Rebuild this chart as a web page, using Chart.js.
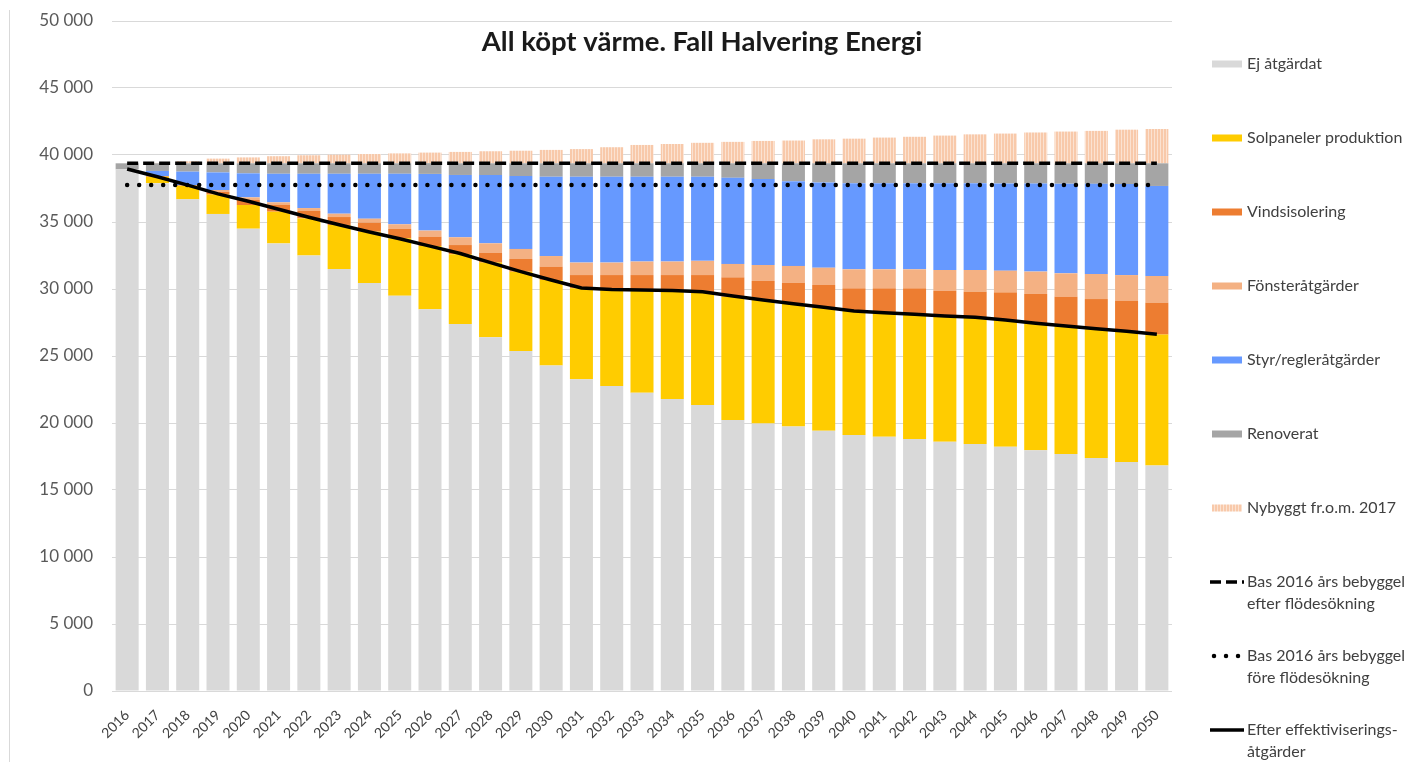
<!DOCTYPE html>
<html lang="sv">
<head>
<meta charset="utf-8">
<title>All köpt värme. Fall Halvering Energi</title>
<script src="https://cdn.jsdelivr.net/npm/chart.js@4.4.1/dist/chart.umd.min.js"></script>
<style>
  html, body { margin: 0; padding: 0; background: #fff; }
  #wrap { position: relative; width: 1405px; height: 762px; }
</style>
</head>
<body>
<div id="wrap"><canvas id="chart" width="1405" height="762"></canvas></div>
<script>
// Categories
const years = ['2016','2017','2018','2019','2020','2021','2022','2023','2024','2025','2026','2027',
  '2028','2029','2030','2031','2032','2033','2034','2035','2036','2037','2038','2039','2040','2041',
  '2042','2043','2044','2045','2046','2047','2048','2049','2050'];

// Stacked bar series (MWh), bottom to top
const ejAtgardat = [38930, 37900, 36690, 35600, 34500, 33400, 32500, 31500, 30450, 29500, 28480, 27390,
  26390, 25370, 24300, 23260, 22760, 22260, 21790, 21340, 20220, 19970, 19730, 19430, 19100, 18980,
  18810, 18610, 18430, 18230, 17960, 17690, 17390, 17090, 16820];
const solpaneler = [0, 480, 1010, 1450, 1770, 2370, 2770, 3280, 3830, 4280, 4730, 5210,
  5580, 5920, 6370, 6790, 7170, 7620, 8010, 8390, 9210, 9210, 9200, 9170, 9260, 9250,
  9300, 9380, 9460, 9460, 9480, 9550, 9650, 9750, 9780];
const vindsisolering = [0, 50, 40, 200, 370, 500, 550, 590, 670, 700, 700, 680,
  740, 950, 1000, 990, 1110, 1160, 1240, 1310, 1440, 1420, 1540, 1700, 1690, 1820,
  1940, 1880, 1910, 2060, 2190, 2190, 2210, 2290, 2380];
const fonster = [0, 0, 20, 140, 200, 200, 220, 250, 300, 350, 450, 580,
  700, 750, 790, 930, 930, 1010, 1010, 1060, 1000, 1190, 1250, 1290, 1420, 1420,
  1420, 1550, 1620, 1620, 1670, 1740, 1870, 1910, 1990];
const styrRegler = [0, 380, 1000, 1310, 1790, 2130, 2560, 2980, 3350, 3770, 4230, 4650,
  5090, 5440, 5920, 6410, 6410, 6330, 6330, 6280, 6430, 6410, 6330, 6360, 6430, 6430,
  6430, 6480, 6480, 6510, 6570, 6690, 6730, 6790, 6720];
const renoverat = [450, 570, 620, 680, 750, 780, 780, 780, 780, 780, 800, 870,
  880, 950, 1000, 1000, 1000, 1000, 1000, 1000, 1080, 1180, 1330, 1430, 1480, 1480,
  1480, 1480, 1480, 1500, 1510, 1520, 1530, 1550, 1690];
const nybyggt = [0, 30, 150, 350, 440, 530, 600, 640, 690, 740, 790, 850,
  900, 940, 1000, 1060, 1200, 1370, 1440, 1530, 1600, 1670, 1700, 1790, 1840, 1920,
  1980, 2070, 2160, 2220, 2300, 2370, 2420, 2510, 2560];

// Line series
const basEfter = [39380, 39380, 39380, 39380, 39380, 39380, 39380, 39380, 39380, 39380, 39380, 39380,
  39380, 39380, 39380, 39380, 39380, 39380, 39380, 39380, 39380, 39380, 39380, 39380, 39380, 39380,
  39380, 39380, 39380, 39380, 39380, 39380, 39380, 39380, 39380];
const basFore = [37760, 37760, 37760, 37760, 37760, 37760, 37760, 37760, 37760, 37760, 37760, 37760,
  37760, 37760, 37760, 37760, 37760, 37760, 37760, 37760, 37760, 37760, 37760, 37760, 37760, 37760,
  37760, 37760, 37760, 37760, 37760, 37760, 37760, 37760, 37760];
const efterEffektivisering = [38950, 38380, 37750, 37100, 36550, 35950, 35350, 34800, 34250, 33750, 33200, 32650,
  31970, 31300, 30670, 30070, 29970, 29930, 29880, 29800, 29480, 29180, 28900, 28630, 28360, 28230,
  28110, 27990, 27890, 27690, 27440, 27240, 27040, 26840, 26620];

// Y tick labels
const yTickLabels = ['0', '5 000', '10 000', '15 000', '20 000', '25 000', '30 000', '35 000', '40 000', '45 000', '50 000'];

const chartTitle = 'All köpt värme. Fall Halvering Energi';

// Striped peach fill for new buildings
function makeStripes() {
  const c = document.createElement('canvas');
  c.width = 3; c.height = 4;
  const g = c.getContext('2d');
  g.fillStyle = '#f8c9aa';
  g.fillRect(0, 0, 3, 4);
  g.fillStyle = '#fbe2d1';
  g.fillRect(2, 0, 1, 4);
  return g.createPattern(c, 'repeat');
}
const stripes = makeStripes();

function bar(label, data, color) {
  return { type: 'bar', label, data, backgroundColor: color, stack: 'bars', order: 2,
    barPercentage: 0.76, categoryPercentage: 1 };
}
function line(label, data, extra) {
  return Object.assign({ type: 'line', label, data, borderColor: '#000', backgroundColor: '#000',
    pointRadius: 0, fill: false, tension: 0, order: 0 }, extra);
}

const datasets = [
  bar('Ej åtgärdat', ejAtgardat, '#d9d9d9'),
  bar('Solpaneler produktion', solpaneler, '#ffcc00'),
  bar('Vindsisolering', vindsisolering, '#ed7d31'),
  bar('Fönsteråtgärder', fonster, '#f4b183'),
  bar('Styr/regleråtgärder', styrRegler, '#6699ff'),
  bar('Renoverat', renoverat, '#a5a5a5'),
  bar('Nybyggt fr.o.m. 2017', nybyggt, stripes),
  line('Bas 2016 års bebyggelse\nefter flödesökning', basEfter,
    { stack: 'l1', borderWidth: 3.5, borderDash: [11, 5] }),
  line('Bas 2016 års bebyggelse\nföre flödesökning', basFore,
    { stack: 'l2', borderWidth: 4.5, borderDash: [0.01, 12], borderCapStyle: 'round' }),
  line('Efter effektiviserings-\nåtgärder', efterEffektivisering,
    { stack: 'l3', borderWidth: 3.5 })
];

// Title, frame line and side legend
const decorations = {
  id: 'decorations',
  beforeDraw(chart) {
    const ctx = chart.ctx;
    ctx.save();
    ctx.strokeStyle = '#d9d9d9';
    ctx.lineWidth = 1;
    ctx.beginPath();
    ctx.moveTo(9.5, 10);
    ctx.lineTo(9.5, 762);
    ctx.stroke();
    ctx.restore();
  },
  afterDraw(chart) {
    const ctx = chart.ctx;
    ctx.save();
    ctx.fillStyle = '#1a1a1a';
    ctx.font = 'bold 27.5px Lato';
    ctx.textAlign = 'center';
    ctx.textBaseline = 'middle';
    ctx.fillText(chartTitle, 702, 42);

    ctx.textAlign = 'left';
    ctx.font = '16px Lato';
    const x0 = 1212, w = 30, tx = 1247;
    chart.data.datasets.forEach((ds, i) => {
      const y = 64 + i * 74;
      if (ds.type === 'bar') {
        ctx.fillStyle = ds.backgroundColor;
        ctx.fillRect(x0, y - 3.5, w, 7);
      } else {
        ctx.strokeStyle = '#000';
        ctx.lineWidth = ds.borderWidth;
        ctx.lineCap = ds.borderCapStyle || 'butt';
        ctx.setLineDash(ds.borderDash || []);
        ctx.beginPath();
        if (ds.borderDash && ds.borderDash[0] < 1) {
          ctx.moveTo(x0 + 2, y);
          ctx.lineTo(x0 + 30, y);
        } else {
          ctx.moveTo(x0 - 2, y);
          ctx.lineTo(x0 + 32, y);
        }
        ctx.stroke();
        ctx.setLineDash([]);
      }
      ctx.fillStyle = '#404040';
      ds.label.split('\n').forEach((t, j) => ctx.fillText(t, tx, y + j * 22));
    });
    ctx.restore();
  }
};

new Chart(document.getElementById('chart'), {
  data: { labels: years, datasets },
  options: {
    responsive: false,
    animation: false,
    layout: { padding: { top: 21, right: 233, left: 0, bottom: 0 } },
    plugins: { legend: { display: false }, title: { display: false }, tooltip: { enabled: false } },
    scales: {
      x: {
        stacked: true,
        grid: { display: false },
        border: { display: false },
        ticks: { autoSkip: false, minRotation: 45, maxRotation: 45, color: '#404040',
          font: { family: 'Lato', size: 14 }, padding: 8 },
        afterFit(s) { s.height = 71; }
      },
      y: {
        stacked: true,
        min: 0,
        max: 50000,
        grid: { color: '#d9d9d9', lineWidth: 1, drawTicks: false },
        border: { display: false },
        ticks: { stepSize: 5000, color: '#595959', padding: 19,
          font: { family: 'Lato', size: 17 },
          callback: (v, i) => yTickLabels[i] },
        // tick padding would otherwise push the plot area down
        afterFit(s) { s.width = 112; s.paddingTop = 10; s.paddingBottom = 0; }
      }
    }
  },
  plugins: [decorations]
});
</script>
</body>
</html>
